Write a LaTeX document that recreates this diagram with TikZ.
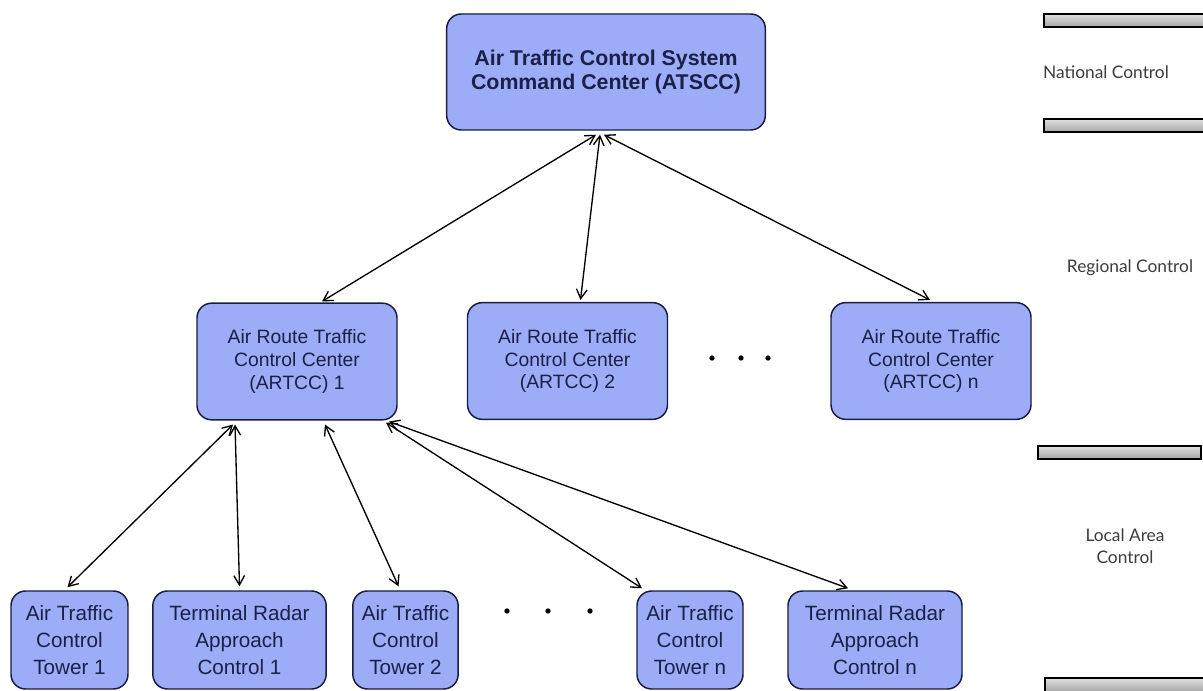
\documentclass[tikz,border=0pt]{standalone}
\usepackage{fontspec}
\setmainfont{Liberation Sans}
\newfontfamily\labelfont{Lato}
\usetikzlibrary{arrows.meta,calc}
\definecolor{boxfill}{RGB}{156,172,246}
\definecolor{boxline}{RGB}{24,28,62}
\definecolor{boxtext}{RGB}{26,32,72}
\definecolor{labeltext}{RGB}{60,60,60}
\begin{document}
\begin{tikzpicture}[x=0.75pt,y=-0.75pt,
  box/.style={draw=boxline,line width=1.1pt,fill=boxfill,rounded corners=11pt,align=center,text=boxtext,inner sep=0pt},
  topbox/.style={box,minimum width=239pt,minimum height=87pt,font=\fontsize{16}{18}\selectfont\bfseries},
  midbox/.style={box,minimum width=150pt,minimum height=87.5pt,font=\fontsize{14.5}{17}\selectfont},
  lowbox/.style={box,minimum height=73.5pt,font=\fontsize{15.5}{20}\selectfont},
  link/.style={line width=1pt,{Straight Barb[length=7pt,width=8pt]}-{Straight Barb[length=7pt,width=8pt]}},
  level/.style={draw=black,line width=0.9pt,top color=gray!25,bottom color=gray!70},
  levellabel/.style={font=\labelfont\fontsize{13}{16.5}\selectfont,text=labeltext,align=center},
  dot/.style={circle,fill=black,inner sep=0pt,minimum size=4pt}]
\useasboundingbox (0,0) rectangle (1203,691);

% level bars
\draw[level] (1044,14) rectangle (1210,27);
\draw[level] (1044,119) rectangle (1210,132);
\draw[level] (1038,446) rectangle (1201,459);
\draw[level] (1045,678) rectangle (1210,692);

\node[levellabel] (lnat) at (1106,72) {National Control};
\node[levellabel] (lreg) at (1130,268) {Regional Control};
\node[levellabel] (lloc) at (1125,546) {Local Area\\Control};

% boxes
\node[topbox] (atscc) at (606,72) {Air Traffic Control System\\Command Center (ATSCC)};
\node[midbox] (artcc1) at (297,361.5) {Air Route Traffic\\Control Center\\(ARTCC) 1};
\node[midbox] (artcc2) at (567.5,361) {Air Route Traffic\\Control Center\\(ARTCC) 2};
\node[midbox] (artccn) at (931,361) {Air Route Traffic\\Control Center\\(ARTCC) n};

\node[lowbox,minimum width=87.75pt] (tower1) at (69.5,640) {Air Traffic\\Control\\Tower 1};
\node[lowbox,minimum width=130pt] (trac1) at (239.5,640) {Terminal Radar\\Approach\\Control 1};
\node[lowbox,minimum width=79pt] (tower2) at (405.5,640) {Air Traffic\\Control\\Tower 2};
\node[lowbox,minimum width=79.5pt] (towern) at (690,640) {Air Traffic\\Control\\Tower n};
\node[lowbox,minimum width=130.5pt] (tracn) at (875,640) {Terminal Radar\\Approach\\Control n};

% ellipsis dots
\node[dot] (m1) at (712,358) {};
\node[dot] (m2) at (741,358) {};
\node[dot] (m3) at (768,358) {};
\node[dot] (b1) at (507,611) {};
\node[dot] (b2) at (548,611) {};
\node[dot] (b3) at (590,611) {};

% connectors
\draw[link] ($(atscc.south)+(-10,4)$) -- ($(artcc1.north)+(25,-1)$);
\draw[link] ($(atscc.south)+(-6,4)$) -- ($(artcc2.north)+(13,-2)$);
\draw[link] ($(atscc.south)+(-2,4)$) -- ($(artccn.north)+(-1,-2)$);

\draw[link] ($(artcc1.south)+(-64,4)$) -- ($(tower1.north)+(-2,-3)$);
\draw[link] ($(artcc1.south)+(-62,4)$) -- ($(trac1.north)+(0,-4)$);
\draw[link] ($(artcc1.south)+(28,4)$) -- ($(tower2.north)+(-7,-4)$);
\draw[link] ($(artcc1.south)+(89,2)$) -- ($(towern.north)+(-48,-2)$);
\draw[link] ($(artcc1.south)+(92,1)$) -- ($(tracn.north)+(-27,-2)$);
\end{tikzpicture}
\end{document}
